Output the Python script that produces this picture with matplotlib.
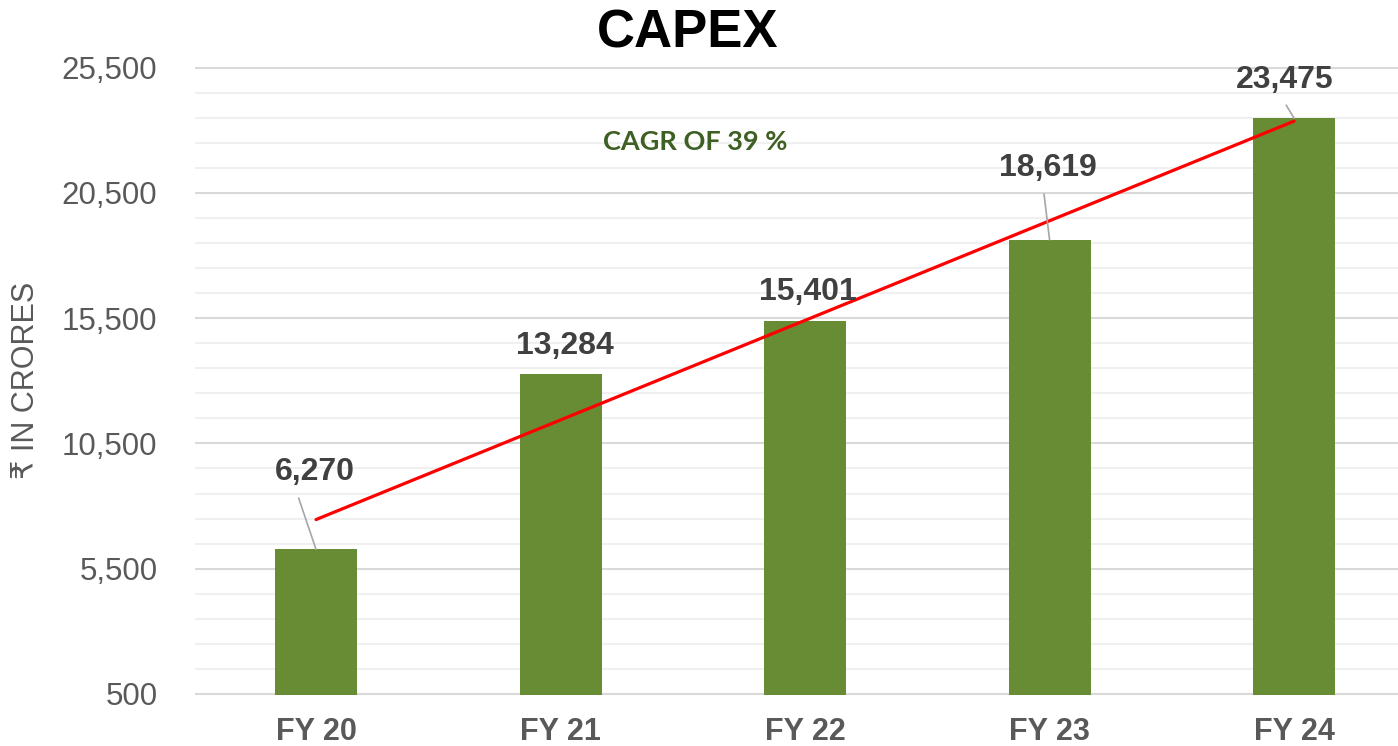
import matplotlib
matplotlib.use('Agg')
import matplotlib.pyplot as plt
import numpy as np

years = ['FY 20', 'FY 21', 'FY 22', 'FY 23', 'FY 24']
capex = [6270, 13284, 15401, 18619, 23475]
value_labels = ['6,270', '13,284', '15,401', '18,619', '23,475']
# label offsets (pixels) from bar top, and whether a leader line is drawn
label_offsets = [(-1, 77), (4, 28), (3, 29), (-2, 72), (-9, 38)]
leader = [True, False, False, True, True]
leader_relpos = [(0.25, 0.0), None, None, (0.45, 0.0), (0.45, 0.0)]

BAR = '#678C34'
GRID_MAJ = '#D9D9D9'
GRID_MIN = '#F0F0F0'
TICK = '#595959'
LABEL = '#404040'

plt.rcParams['font.family'] = ['Liberation Sans', 'DejaVu Sans']

fig = plt.figure(figsize=(13.98, 7.46), dpi=100)
ax = fig.add_axes([195 / 1398, 51.5 / 746, 1 - 195 / 1398, 627.5 / 746])

x = np.arange(len(years))
ax.bar(x, capex, width=0.335, bottom=0, color=BAR, zorder=3)

# linear trend line
slope, intercept = np.polyfit(x, capex, 1)
ax.plot(x[[0, -1]], slope * x[[0, -1]] + intercept, color='#FF0000', lw=2.3, zorder=4,
        solid_capstyle='round')

ax.set_xlim(-0.495, 4.425)
ax.set_ylim(480, 25520)
ax.set_yticks(np.arange(500, 25501, 5000))
ax.set_yticks(np.arange(500, 25501, 1000), minor=True)
ax.set_yticklabels([f'{v:,}' for v in range(500, 25501, 5000)])
ax.yaxis.grid(True, which='minor', color=GRID_MIN, lw=1.5, zorder=0)
ax.yaxis.grid(True, which='major', color=GRID_MAJ, lw=1.5, zorder=1)
ax.set_axisbelow(True)
for s in ax.spines.values():
    s.set_visible(False)
ax.tick_params(axis='y', which='both', length=0, pad=27, labelsize=22.5, labelcolor=TICK)
ax.tick_params(axis='x', length=0, pad=16, labelsize=22, labelcolor=TICK)
ax.set_xticks(x)
ax.set_xticklabels(years, fontweight='bold')

ax.set_ylabel('₹ IN CRORES', fontsize=22, color=TICK)
ax.yaxis.set_label_coords(-0.128, 0.5)

for i, (v, lab) in enumerate(zip(capex, value_labels)):
    dx, dy = label_offsets[i]
    kw = {}
    if leader[i]:
        kw['arrowprops'] = dict(arrowstyle='-', color='#A6A6A6', lw=1.2,
                                relpos=leader_relpos[i], shrinkA=6, shrinkB=0)
    ax.annotate(lab, xy=(i, v), xytext=(dx, dy), textcoords='offset pixels',
                ha='center', va='center', fontsize=23, fontweight='bold',
                color=LABEL, zorder=5, **kw)

ax.text(1.55, 22510, 'CAGR OF 39 %', ha='center', va='center', fontsize=19.5,
        fontweight='bold', color='#3E6024', family=['Lato', 'DejaVu Sans'])

fig.text(688 / 1398, 1 - 34 / 746, 'CAPEX', ha='center', va='center', fontsize=38,
         fontweight='bold', color='black')

fig.savefig('out.png', dpi=100)
